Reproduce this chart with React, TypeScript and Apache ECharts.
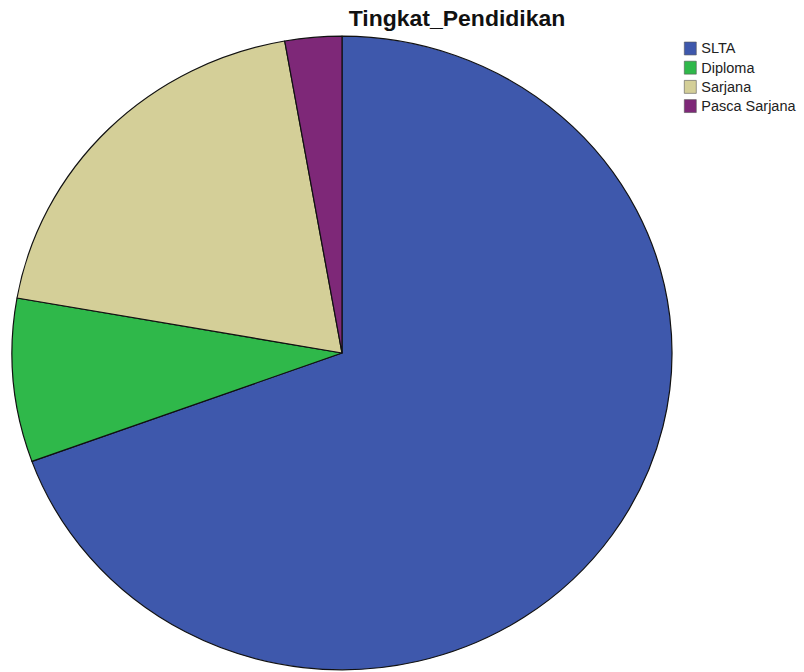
import React, { useEffect, useRef } from "react";
import * as echarts from "echarts";

const categories = ["SLTA", "Diploma", "Sarjana", "Pasca Sarjana"];
const values = [25, 3, 7, 1];
const colors = ["#3e58ac", "#2fb84a", "#d4cf98", "#7e2878"];
const titleText = "Tingkat_Pendidikan";

// The reference pie is slightly elliptical (wider than tall); draw at full
// width and squeeze the chart vertically.
const SCALE_Y = 0.96;
const H = 672 / SCALE_Y;

export default function App() {
  const ref = useRef<HTMLDivElement>(null);
  useEffect(() => {
    if (!ref.current) return;
    const chart = echarts.init(ref.current, null, { renderer: "svg" });
    chart.setOption({
      animation: false,
      backgroundColor: "#ffffff",
      title: {
        text: titleText,
        left: 452,
        top: 3,
        textAlign: "center",
        textStyle: {
          fontFamily: "Liberation Sans",
          fontWeight: "bold",
          fontSize: 23,
          color: "#111111",
        },
      },
      legend: {
        orient: "vertical",
        left: 679,
        top: 38,
        itemWidth: 12,
        itemHeight: 13.5,
        itemGap: 5,
        icon: "rect",
        selectedMode: false,
        textStyle: {
          fontFamily: "Liberation Sans",
          fontSize: 14.5,
          color: "#222222",
        },
        itemStyle: { borderColor: "#555", borderWidth: 0.6 },
        data: categories,
      },
      series: [
        {
          type: "pie",
          center: [342, 353 / SCALE_Y],
          radius: 330,
          startAngle: 90,
          clockwise: true,
          label: { show: false },
          labelLine: { show: false },
          emphasis: { disabled: true },
          itemStyle: { borderColor: "#111111", borderWidth: 1.2 },
          data: categories.map((c, i) => ({
            name: c,
            value: values[i],
            itemStyle: { color: colors[i] },
          })),
        },
      ],
    });
    return () => chart.dispose();
  }, []);
  return (
    <div style={{ position: "absolute", left: 0, top: 0, width: 804, height: 672, overflow: "hidden" }}>
      <div
        ref={ref}
        style={{
          width: 804,
          height: H,
          transform: `scaleY(${SCALE_Y})`,
          transformOrigin: "0 0",
        }}
      />
    </div>
  );
}
